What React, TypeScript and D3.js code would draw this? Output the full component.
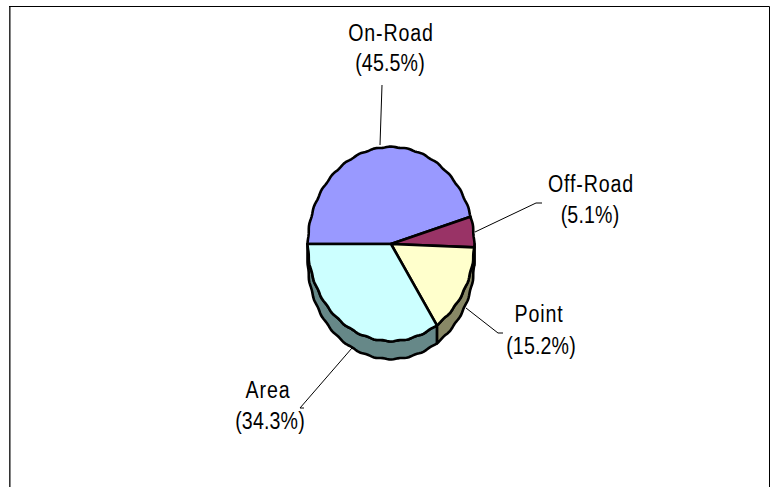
import React from "react";
import * as d3 from "d3";

const categories = ["On-Road", "Off-Road", "Point", "Area"];
const shares = [45.5, 5.1, 15.2, 34.3];
const faceColors = ["#9999ff", "#993366", "#ffffcc", "#ccffff"];
const sideColors = ["#666699", "#662244", "#888866", "#668888"];
const nameAt = [[391, 41], [591, 192], [539, 322], [268, 398]];
const valueAt = [[390, 71], [590, 223], [541, 354], [270, 429]];
const leaderStart = [[380, 145], [475, 232], [466, 308], [352, 348]];
const leaderEnd = [[382, 85], [536, 203], [498, 333], [300, 408]];
const leaderTick = [[382, 85], [542, 203], [503, 333], [304, 408]];

const W = 771, H = 487;
const cx = 391, cy = 244, rx = 83.5, ry = 97.5, depth = 18;
const scallops = 32;
const scallopDepth = 0.009;

const pie = d3.pie<number>().sort(null).startAngle(-Math.PI / 2).endAngle((3 * Math.PI) / 2);
const arcs = pie(shares);
const pt = (a: number, dz = 0): [number, number] => {
  const f = 1 - scallopDepth * Math.pow(Math.sin((a * scallops) / 2), 2);
  return [cx + rx * f * Math.sin(a), cy - ry * f * Math.cos(a) + dz];
};
const samples = (a0: number, a1: number) => {
  const n = Math.max(2, Math.round(((a1 - a0) * 180) / Math.PI / 1.5));
  return d3.range(n + 1).map((i) => a0 + ((a1 - a0) * i) / n);
};
const line = d3.line().curve(d3.curveLinear);
const rim = (a0: number, a1: number, dz = 0) => samples(a0, a1).map((a) => pt(a, dz));

const font = "Liberation Sans, Arial, sans-serif";

function Label({ x, y, text, spacing }: { x: number; y: number; text: string; spacing: number }) {
  return (
    <text
      transform={`translate(${x},${y}) scale(0.8,1)`}
      textAnchor="middle"
      fontFamily={font}
      fontSize={24.5}
      letterSpacing={spacing}
      fill="#000"
    >
      {text}
    </text>
  );
}

export default function App() {
  const sides = arcs.map((d) => {
    const a0 = Math.max(d.startAngle, Math.PI / 2);
    const a1 = Math.min(d.endAngle, (3 * Math.PI) / 2);
    if (a1 <= a0) return null;
    return line([...rim(a0, a1), ...rim(a0, a1, depth).reverse()]) + "Z";
  });
  return (
    <svg width={W} height={H} style={{ position: "absolute", left: 0, top: 0 }}>
      <rect x={0} y={0} width={W} height={H} fill="#fff" />
      <path d={`M9.8 ${H}V6`} fill="none" stroke="#333" strokeWidth={1.6} />
      <path d={`M9 6.5H769.5V${H}`} fill="none" stroke="#000" strokeWidth={1} />
      {arcs.map((_, i) => (
        <path
          key={i}
          d={line([leaderStart[i] as [number, number], leaderEnd[i] as [number, number], leaderTick[i] as [number, number]]) as string}
          fill="none"
          stroke="#000"
          strokeWidth={1}
        />
      ))}
      {sides.map((p, i) => p && (
        <path key={i} d={p} fill={sideColors[i]} stroke="#000" strokeWidth={2.6} strokeLinejoin="round" />
      ))}
      {arcs.map((d, i) => (
        <path
          key={i}
          d={line([[cx, cy], ...rim(d.startAngle, d.endAngle)]) + "Z"}
          fill={faceColors[i]}
          stroke="#000"
          strokeWidth={2.6}
          strokeLinejoin="round"
        />
      ))}
      {categories.map((c, i) => (
        <g key={c}>
          <Label x={nameAt[i][0]} y={nameAt[i][1]} text={c} spacing={1.1} />
          <Label x={valueAt[i][0]} y={valueAt[i][1]} text={`(${shares[i].toFixed(1)}%)`} spacing={0.2} />
        </g>
      ))}
    </svg>
  );
}
